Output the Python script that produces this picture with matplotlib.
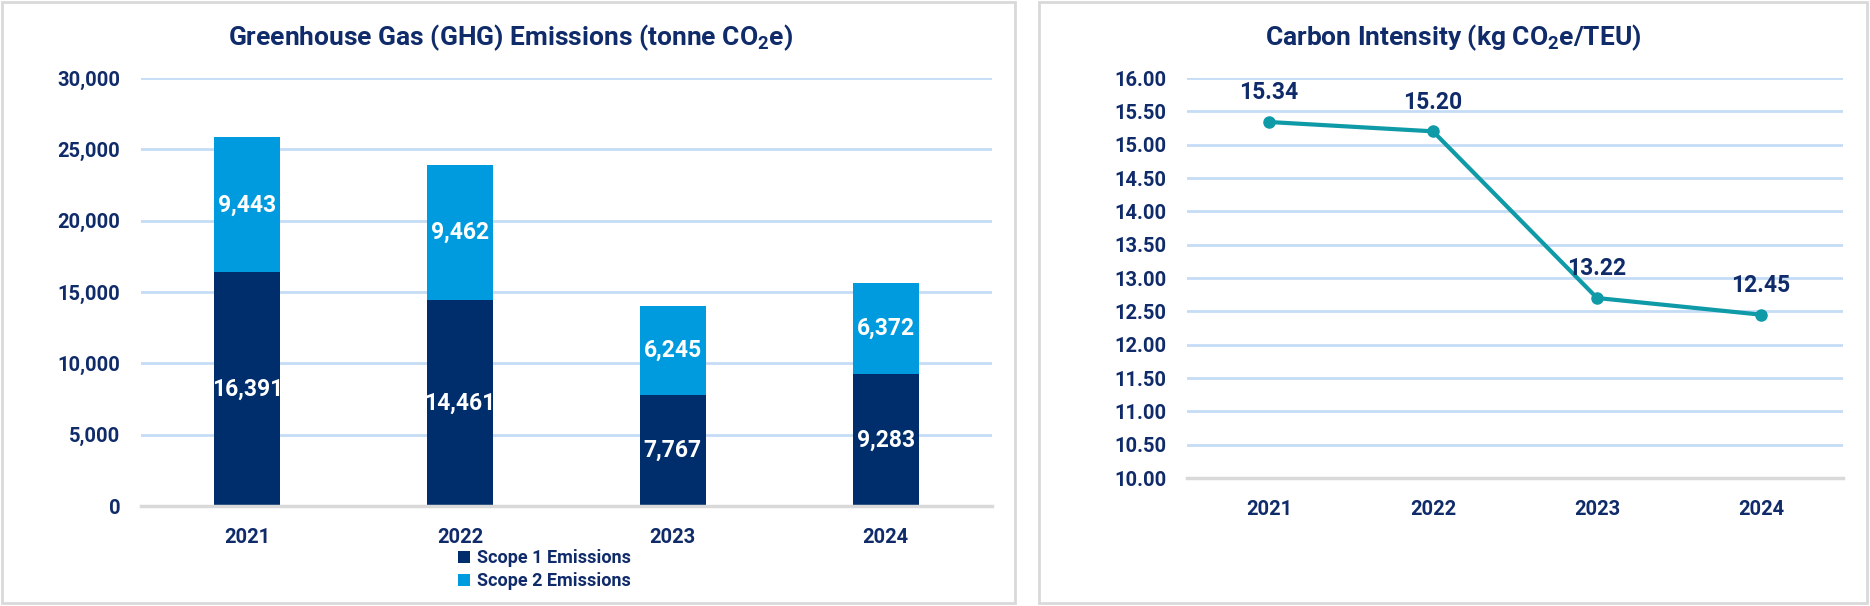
import matplotlib
matplotlib.use("Agg")
import matplotlib.pyplot as plt
from matplotlib.patches import Rectangle
from matplotlib.ticker import FuncFormatter, MultipleLocator

years = ["2021", "2022", "2023", "2024"]
scope1 = [16391, 14461, 7767, 9283]
scope2 = [9443, 9462, 6245, 6372]
# marker heights as drawn in the picture, and the data-label texts shown
intensity_points = [15.34, 15.20, 12.70, 12.45]
intensity_labels = ["15.34", "15.20", "13.22", "12.45"]

NAVY_TXT = "#102B6A"
NAVY = "#002D6B"
LIGHT = "#009BDE"
TEAL = "#0E9AA7"
GRID = "#C5DCF7"
GREY = "#D9D9D9"

FONT = ["Roboto", "DejaVu Sans"]
plt.rcParams["font.family"] = FONT
plt.rcParams["font.weight"] = "bold"
plt.rcParams["mathtext.fontset"] = "custom"
plt.rcParams["mathtext.rm"] = "Roboto:bold"
plt.rcParams["mathtext.it"] = "Roboto:bold"
plt.rcParams["mathtext.bf"] = "Roboto:bold"

W, H = 1870, 606
fig = plt.figure(figsize=(W / 100, H / 100), dpi=100)
fig.patch.set_facecolor("white")

def fx(px):
    return px / W

def fy(py):
    return 1 - py / H

# panel borders
fig.patches.append(Rectangle((fx(2), fy(603)), fx(1015) - fx(2), fy(2) - fy(603),
                             transform=fig.transFigure, fill=False, edgecolor=GREY, lw=2))
fig.patches.append(Rectangle((fx(1039), fy(603)), fx(1867) - fx(1039), fy(2) - fy(603),
                             transform=fig.transFigure, fill=False, edgecolor=GREY, lw=2))

# ---------- left chart ----------
ax1 = fig.add_axes([fx(141), fy(506), fx(992) - fx(141), fy(78) - fy(506)])
x = list(range(len(years)))
bw = 0.31
ax1.bar(x, scope1, width=bw, color=NAVY, label="Scope 1 Emissions", zorder=3)
ax1.bar(x, scope2, width=bw, bottom=scope1, color=LIGHT, label="Scope 2 Emissions", zorder=3)
ax1.set_xlim(-0.5, len(years) - 0.5)
ax1.set_ylim(0, 30000)
ax1.yaxis.set_major_locator(MultipleLocator(5000))
ax1.yaxis.set_major_formatter(FuncFormatter(lambda v, p: f"{int(v):,}"))
ax1.set_xticks(x)
ax1.set_xticklabels(years)
ax1.grid(axis="y", color=GRID, lw=2, zorder=0)
for s in ["top", "right", "left"]:
    ax1.spines[s].set_visible(False)
ax1.spines["bottom"].set_color(GREY)
ax1.spines["bottom"].set_linewidth(2.5)
ax1.spines["bottom"].set_zorder(4)
ax1.tick_params(axis="both", length=0, labelsize=14.5, labelcolor=NAVY_TXT)
ax1.tick_params(axis="y", pad=15)
ax1.tick_params(axis="x", pad=16)
for lab in ax1.get_xticklabels() + ax1.get_yticklabels():
    lab.set_fontweight("bold")
for i in x:
    ax1.text(i, scope1[i] / 2, f"{scope1[i]:,}", ha="center", va="center",
             color="white", fontsize=16.5, fontweight="bold", zorder=5)
    ax1.text(i, scope1[i] + scope2[i] / 2, f"{scope2[i]:,}", ha="center", va="center",
             color="white", fontsize=16.5, fontweight="bold", zorder=5)
fig.text(fx(510), fy(38), r"Greenhouse Gas (GHG) Emissions (tonne CO$_2$e)",
         ha="center", va="center", fontsize=19, fontweight="bold", color=NAVY_TXT)
leg = ax1.legend(loc="upper left", bbox_to_anchor=(fx(458), fy(549)), bbox_transform=fig.transFigure,
                 frameon=False, prop={"size": 13, "weight": "bold"}, handlelength=0.65, handleheight=0.65,
                 handletextpad=0.4, labelspacing=0.3, borderpad=0, borderaxespad=0)
for t in leg.get_texts():
    t.set_color(NAVY_TXT)

# ---------- right chart ----------
ax2 = fig.add_axes([fx(1187), fy(478), fx(1843) - fx(1187), fy(78) - fy(478)])
ax2.plot(x, intensity_points, color=TEAL, lw=3, marker="o", markersize=8, zorder=3)
ax2.set_xlim(-0.5, len(years) - 0.5)
ax2.set_ylim(10, 16)
ax2.yaxis.set_major_locator(MultipleLocator(0.5))
ax2.yaxis.set_major_formatter(FuncFormatter(lambda v, p: f"{v:.2f}"))
ax2.set_xticks(x)
ax2.set_xticklabels(years)
ax2.grid(axis="y", color=GRID, lw=2, zorder=0)
for s in ["top", "right", "left"]:
    ax2.spines[s].set_visible(False)
ax2.spines["bottom"].set_color(GREY)
ax2.spines["bottom"].set_linewidth(2.5)
ax2.tick_params(axis="both", length=0, labelsize=14.5, labelcolor=NAVY_TXT)
ax2.tick_params(axis="y", pad=15)
ax2.tick_params(axis="x", pad=16)
for lab in ax2.get_xticklabels() + ax2.get_yticklabels():
    lab.set_fontweight("bold")
for i in x:
    ax2.annotate(intensity_labels[i], (i, intensity_points[i]), xytext=(0, 21), textcoords="offset points",
                 ha="center", va="center", fontsize=16.5, fontweight="bold", color=NAVY_TXT)
fig.text(fx(1453), fy(38), r"Carbon Intensity (kg CO$_2$e/TEU)",
         ha="center", va="center", fontsize=19, fontweight="bold", color=NAVY_TXT)

fig.savefig("out.png", dpi=100, facecolor="white")
